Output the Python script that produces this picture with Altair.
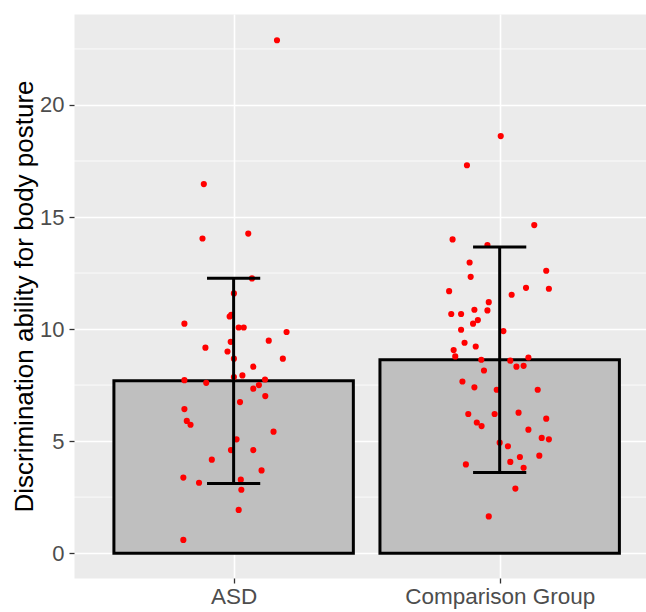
import altair as alt
import pandas as pd

# ---- data ----
groups = ["ASD", "Comparison Group"]
group_pos = [1, 2]
bar_means = [7.69, 8.63]
bar_sd = [4.58, 5.03]

asd_values = [22.89, 16.47, 14.04, 14.26, 12.26, 11.59, 10.56, 10.64, 10.24, 10.07,
              10.07, 9.87, 9.17, 9.48, 9.43, 9.00, 8.68, 8.68, 8.32, 7.93,
              7.86, 7.75, 7.72, 7.60, 7.50, 7.34, 7.01, 6.74, 6.43, 5.90,
              5.73, 5.42, 5.08, 4.60, 4.60, 4.17, 3.69, 3.37, 3.14, 3.28,
              2.83, 1.93, 0.59]
asd_jitter = [0.163, -0.112, -0.117, 0.055, 0.069, 0.001, -0.015, -0.009, -0.185, 0.019,
              0.038, 0.199, -0.106, 0.132, -0.011, -0.023, 0.185, 0.001, 0.074, 0.033,
              0.001, 0.118, -0.185, -0.103, 0.095, 0.074, 0.119, 0.024, -0.185, -0.176,
              -0.162, 0.150, 0.011, -0.010, 0.074, -0.082, 0.105, -0.189, -0.130, 0.027,
              0.029, 0.019, -0.189]

comp_values = [18.61, 17.31, 14.64, 14.00, 13.75, 12.97, 12.60, 12.33, 11.69, 11.84,
               11.80, 11.53, 11.20, 10.86, 10.83, 10.67, 10.67, 10.40, 10.24, 9.97,
               9.91, 9.39, 9.22, 9.06, 8.78, 8.63, 8.59, 8.73, 8.36, 8.32,
               8.15, 7.66, 7.40, 7.29, 7.29, 6.21, 6.21, 6.27, 6.00, 5.83,
               5.67, 5.51, 5.14, 5.08, 4.93, 4.77, 4.35, 4.29, 4.07, 3.96,
               3.81, 2.88, 1.64]
comp_jitter = [0.004, -0.123, 0.130, -0.177, -0.046, -0.113, 0.175, -0.109, -0.190, 0.099,
               0.185, 0.045, -0.041, -0.095, -0.046, -0.182, -0.145, -0.082, -0.100, -0.145,
               0.014, -0.132, -0.090, -0.173, -0.167, -0.069, 0.040, 0.108, 0.090, 0.063,
               -0.059, -0.140, -0.095, -0.011, 0.143, -0.118, -0.019, 0.071, 0.175, -0.086,
               -0.068, 0.108, 0.158, 0.185, 0.000, 0.031, 0.149, 0.076, 0.040, -0.127,
               0.090, 0.059, -0.041]

y_ticks = [0, 5, 10, 15, 20]
y_minor = [2.5, 7.5, 12.5, 17.5, 22.5]
y_title = "Discrimination ability for body posture"

# ---- tables ----
points_df = pd.DataFrame({
    "pos": [group_pos[0]] * len(asd_values) + [group_pos[1]] * len(comp_values),
    "jit": asd_jitter + comp_jitter,
    "value": asd_values + comp_values,
})
bars_df = pd.DataFrame({"pos": group_pos, "group": groups, "mean": bar_means, "sd": bar_sd})
minor_df = pd.DataFrame({"v": y_minor})

FONT = "Liberation Sans"
xscale = alt.Scale(domain=[0.4, 2.55], nice=False, zero=False)
yscale = alt.Scale(domain=[-1.11, 24.06], nice=False, zero=False)

label_expr = "[" + ",".join("'" + g + "'" for g in groups) + "][datum.value - 1]"

x_axis = alt.Axis(values=group_pos, labelExpr=label_expr, title="", grid=True,
                  gridColor="white", gridWidth=1.6, domain=False, tickColor="#333333",
                  tickSize=5, tickWidth=1.3, labelFontSize=22.5, labelColor="#4D4D4D",
                  labelFont=FONT, labelPadding=2, labelAngle=0, labelLimit=400)
y_axis = alt.Axis(values=y_ticks, title=y_title, grid=True, gridColor="white",
                  gridWidth=1.6, domain=False, tickColor="#333333", tickSize=5,
                  tickWidth=1.3, labelFontSize=22, labelColor="#4D4D4D", labelFont=FONT,
                  labelPadding=5, titleFont=FONT, titleFontSize=26, titleColor="black",
                  titleFontWeight="normal", titleX=-50, titleY=282, titleAlign="center",
                  titleBaseline="middle", titleLimit=600)

minor = alt.Chart(minor_df).mark_rule(color="white", strokeWidth=0.8).encode(
    y=alt.Y("v:Q", scale=yscale, axis=y_axis)
)

bars = alt.Chart(bars_df).transform_calculate(
    xl="datum.pos - 0.45", xr="datum.pos + 0.45", zero="0"
).mark_bar(fill="#BFBFBF", stroke="black", strokeWidth=3).encode(
    x=alt.X("xl:Q", scale=xscale, axis=x_axis),
    x2="xr:Q",
    y=alt.Y("zero:Q", scale=yscale, axis=y_axis),
    y2="mean:Q",
)

points = alt.Chart(points_df).transform_calculate(
    px="datum.pos + datum.jit"
).mark_circle(color="red", opacity=1, size=38).encode(
    x=alt.X("px:Q", scale=xscale, axis=x_axis),
    y=alt.Y("value:Q", scale=yscale, axis=y_axis),
)

err_base = alt.Chart(bars_df).transform_calculate(
    lo="datum.mean - datum.sd", hi="datum.mean + datum.sd",
    cl="datum.pos - 0.1", cr="datum.pos + 0.1"
)

err_line = err_base.mark_rule(color="black", strokeWidth=3).encode(
    x=alt.X("pos:Q", scale=xscale, axis=x_axis),
    y=alt.Y("lo:Q", scale=yscale, axis=y_axis),
    y2="hi:Q",
)
cap_hi = err_base.mark_rule(color="black", strokeWidth=3).encode(
    x=alt.X("cl:Q", scale=xscale, axis=x_axis),
    x2="cr:Q",
    y=alt.Y("hi:Q", scale=yscale, axis=y_axis),
)
cap_lo = err_base.mark_rule(color="black", strokeWidth=3).encode(
    x=alt.X("cl:Q", scale=xscale, axis=x_axis),
    x2="cr:Q",
    y=alt.Y("lo:Q", scale=yscale, axis=y_axis),
)

chart = alt.layer(minor, bars, points, err_line, cap_hi, cap_lo).properties(
    width=572, height=564,
    autosize=alt.AutoSizeParams(type="none"),
    padding={"left": 74, "top": 14, "right": 0, "bottom": 34},
    background="white",
).configure_view(fill="#EBEBEB", stroke="transparent")

chart.save("out.html", embed_options={"renderer": "svg", "actions": False})
